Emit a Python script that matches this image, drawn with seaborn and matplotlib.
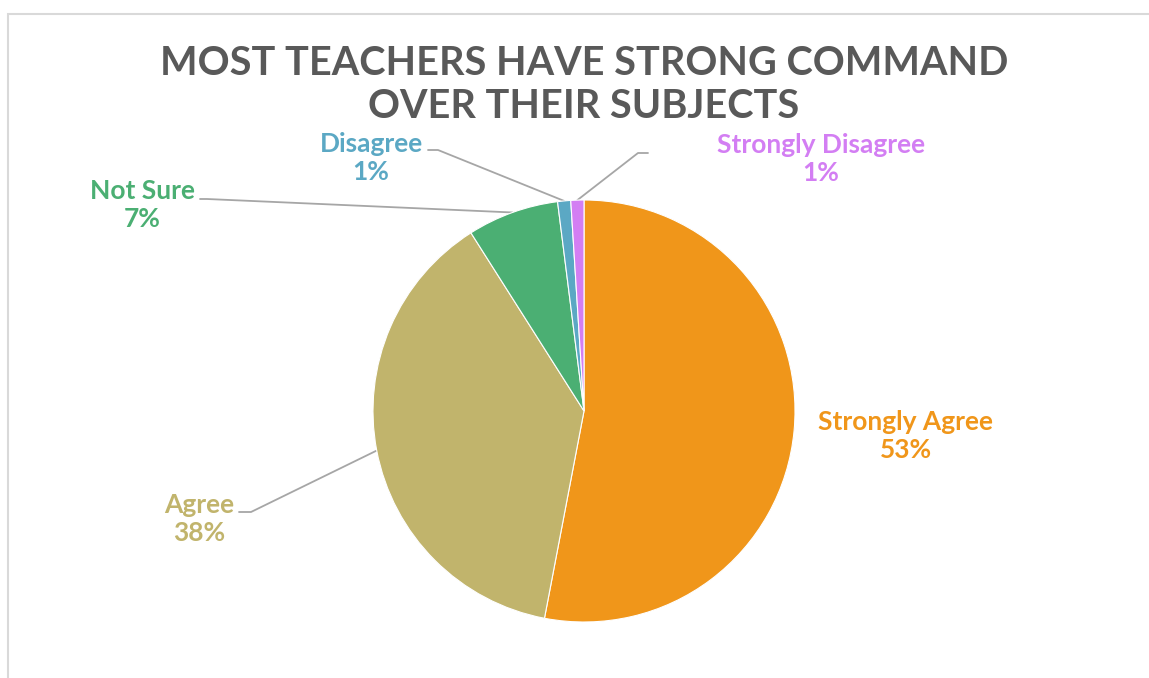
import numpy as np
import seaborn as sns
import matplotlib.pyplot as plt
from matplotlib.patches import Rectangle
import matplotlib.patheffects as pe

# Survey data
categories = ['Strongly Agree', 'Agree', 'Not Sure', 'Disagree', 'Strongly Disagree']
shares = [53, 38, 7, 1, 1]
colors = ['#F0961A', '#C1B46C', '#4BAF73', '#5BA8C4', '#D37EF3']
title = 'MOST TEACHERS HAVE STRONG COMMAND\nOVER THEIR SUBJECTS'

sns.set_theme(style='white')
plt.rcParams['font.family'] = ['Lato', 'DejaVu Sans']

W, H = 1149, 678
fig = plt.figure(figsize=(W / 100, H / 100), dpi=100)
ax = fig.add_axes([0, 0, 1, 1])

# pie in pixel-like coordinates (y measured from the bottom)
cx, cy, r = 584, H - 411, 211
palette = sns.color_palette(colors)
wedges, _ = ax.pie(shares, colors=palette, startangle=90, counterclock=False,
                   center=(cx, cy), radius=r,
                   wedgeprops=dict(edgecolor='white', linewidth=0.8))
for w in wedges:
    w.set_path_effects([pe.SimplePatchShadow(offset=(0, 0), shadow_rgbFace='#bbbbbb', alpha=0.4),
                        pe.Normal()])

ax.set_xlim(0, W)
ax.set_ylim(0, H)
ax.set_aspect('equal')
ax.axis('off')

# label placement: (text centre x, text centre y, leader elbow or None)
label_pos = {
    'Strongly Agree': (906, 436, None),
    'Agree': (199, 519, [(251, 512), (239, 512)]),
    'Not Sure': (142, 205, [(207, 199), (200, 199)]),
    'Disagree': (371, 158, [(438, 150), (428, 150)]),
    'Strongly Disagree': (821, 159, [(638, 153), (648, 153)]),
}

for w, cat, val, col in zip(wedges, categories, shares, colors):
    tx, ty, leader = label_pos[cat]
    ax.text(tx, H - ty, f'{cat}\n{val}%', ha='center', va='center',
            color=col, fontsize=19, fontweight='bold', linespacing=1.2)
    if leader:
        ang = np.deg2rad((w.theta1 + w.theta2) / 2)
        pts = [(cx + r * np.cos(ang), cy + r * np.sin(ang))]
        pts += [(x, H - y) for x, y in leader]
        xs, ys = zip(*pts)
        ax.plot(xs, ys, color='#A6A6A6', lw=1.3, zorder=0.5)

fig.text(584 / W, 1 - 85 / H, title, ha='center', va='center', color='#595959',
         fontsize=28.5, fontweight='bold', linespacing=1.23)

# chart frame
fig.patches.append(Rectangle((7.5 / W, -0.1), 1.2, 1 - 14.5 / H + 0.1,
                             transform=fig.transFigure, fill=False,
                             edgecolor='#D9D9D9', lw=1.5))

fig.savefig('out.png', dpi=100)
